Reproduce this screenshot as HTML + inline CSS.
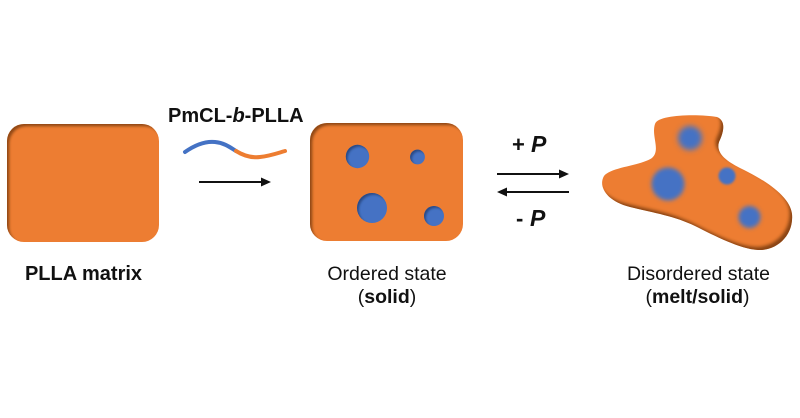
<!DOCTYPE html>
<html>
<head>
<meta charset="utf-8">
<style>
  html,body{margin:0;padding:0;background:#fff;}
  svg{display:block;}
  text{font-family:"Liberation Sans",Arial,sans-serif;fill:#111;}
</style>
</head>
<body>
<svg width="800" height="418" viewBox="0 0 800 418" xmlns="http://www.w3.org/2000/svg">
  <defs>
    <filter id="insetTL" x="-10%" y="-10%" width="120%" height="120%">
      <feOffset in="SourceAlpha" dx="2.5" dy="2.5" result="off"/>
      <feGaussianBlur in="off" stdDeviation="1.2" result="blur"/>
      <feComposite operator="arithmetic" k2="-1" k3="1" in="blur" in2="SourceAlpha" result="diff"/>
      <feFlood flood-color="#5a2600" flood-opacity="0.75"/>
      <feComposite in2="diff" operator="in" result="sh"/>
      <feComposite in="sh" in2="SourceGraphic" operator="over"/>
    </filter>
    <filter id="insetHole" x="-20%" y="-20%" width="140%" height="140%">
      <feOffset in="SourceAlpha" dx="2" dy="2" result="off"/>
      <feGaussianBlur in="off" stdDeviation="1" result="blur"/>
      <feComposite operator="arithmetic" k2="-1" k3="1" in="blur" in2="SourceAlpha" result="diff"/>
      <feFlood flood-color="#1c3566" flood-opacity="0.75"/>
      <feComposite in2="diff" operator="in" result="sh"/>
      <feComposite in="sh" in2="SourceGraphic" operator="over"/>
    </filter>
    <filter id="insetBR" x="-10%" y="-10%" width="120%" height="120%">
      <feOffset in="SourceAlpha" dx="-3" dy="-3.5" result="off"/>
      <feGaussianBlur in="off" stdDeviation="1.6" result="blur"/>
      <feComposite operator="arithmetic" k2="-1" k3="1" in="blur" in2="SourceAlpha" result="diff"/>
      <feFlood flood-color="#5a2600" flood-opacity="0.8"/>
      <feComposite in2="diff" operator="in" result="sh"/>
      <feComposite in="sh" in2="SourceGraphic" operator="over"/>
    </filter>
    <filter id="b1" x="-50%" y="-50%" width="200%" height="200%"><feGaussianBlur stdDeviation="1"/></filter>
    <filter id="b2" x="-50%" y="-50%" width="200%" height="200%"><feGaussianBlur stdDeviation="2"/></filter>
    <filter id="b3" x="-50%" y="-50%" width="200%" height="200%"><feGaussianBlur stdDeviation="2.8"/></filter>
  </defs>

  <!-- PLLA matrix rectangle -->
  <rect x="7" y="124" width="152" height="118" rx="17" ry="17" fill="#ED7D31" filter="url(#insetTL)"/>
  <text x="83.5" y="280" font-size="20" font-weight="bold" text-anchor="middle">PLLA matrix</text>

  <!-- PmCL-b-PLLA label and chain -->
  <text x="168" y="122" font-size="20" font-weight="bold">PmCL-<tspan font-style="italic">b</tspan>-PLLA</text>
  <path d="M185,152 C195,145 205,141 215,142 C225,143 231,148 236,151" fill="none" stroke="#4472C4" stroke-width="4" stroke-linecap="round"/>
  <path d="M236,151 C244,156 252,158 260,157 C270,156 278,153 285,151" fill="none" stroke="#ED7D31" stroke-width="4" stroke-linecap="round"/>
  <line x1="199" y1="182" x2="263" y2="182" stroke="#111" stroke-width="2"/>
  <polygon points="271,182 261,177.5 261,186.5" fill="#111"/>

  <!-- Ordered state rectangle -->
  <rect x="310" y="123" width="153" height="118" rx="17" ry="17" fill="#ED7D31" filter="url(#insetTL)"/>
  <circle cx="357.5" cy="156.5" r="11.7" fill="#4472C4" filter="url(#insetHole)"/>
  <circle cx="417.5" cy="157" r="7.4" fill="#4472C4" filter="url(#insetHole)"/>
  <circle cx="372" cy="208" r="15" fill="#4472C4" filter="url(#insetHole)"/>
  <circle cx="434" cy="216" r="10" fill="#4472C4" filter="url(#insetHole)"/>
  <text x="387" y="280" font-size="19.5" text-anchor="middle">Ordered state</text>
  <text x="387" y="303" font-size="19.5" text-anchor="middle">(<tspan font-weight="bold">solid</tspan>)</text>

  <!-- Equilibrium arrows -->
  <text x="512" y="152" font-size="22" font-weight="bold">+</text>
  <text x="531" y="152" font-size="23" font-weight="bold" font-style="italic">P</text>
  <line x1="497" y1="174" x2="561" y2="174" stroke="#111" stroke-width="2"/>
  <polygon points="569,174 559,169.5 559,178.5" fill="#111"/>
  <line x1="505" y1="192" x2="569" y2="192" stroke="#111" stroke-width="2"/>
  <polygon points="497,192 507,187.5 507,196.5" fill="#111"/>
  <text x="516" y="226" font-size="22" font-weight="bold">-</text>
  <text x="530" y="226" font-size="23" font-weight="bold" font-style="italic">P</text>

  <!-- Disordered blob -->
  <path d="M655,124 C658,114 700,114 717,117 C727,121 723,134 719,142 C716,152 724,160 740,168 C765,180 790,196 792,214 C794,236 776,251 758,250 C740,249 715,236 695,226 C675,216 650,212 630,207 C606,201 598,186 604,176 C611,167 640,166 652,158 C661,150 651,136 655,124 Z" fill="#ED7D31" filter="url(#insetBR)"/>
  <circle cx="690" cy="138" r="12" fill="#4472C4" filter="url(#b3)"/>
  <circle cx="668" cy="184" r="16.5" fill="#4472C4" filter="url(#b2)"/>
  <circle cx="727" cy="176" r="8.5" fill="#4472C4" filter="url(#b1)"/>
  <circle cx="749.5" cy="217" r="11" fill="#4472C4" filter="url(#b2)"/>
  <text x="698.5" y="280" font-size="19.5" text-anchor="middle">Disordered state</text>
  <text x="697.5" y="303" font-size="19.5" text-anchor="middle">(<tspan font-weight="bold">melt/solid</tspan>)</text>
</svg>
</body>
</html>
